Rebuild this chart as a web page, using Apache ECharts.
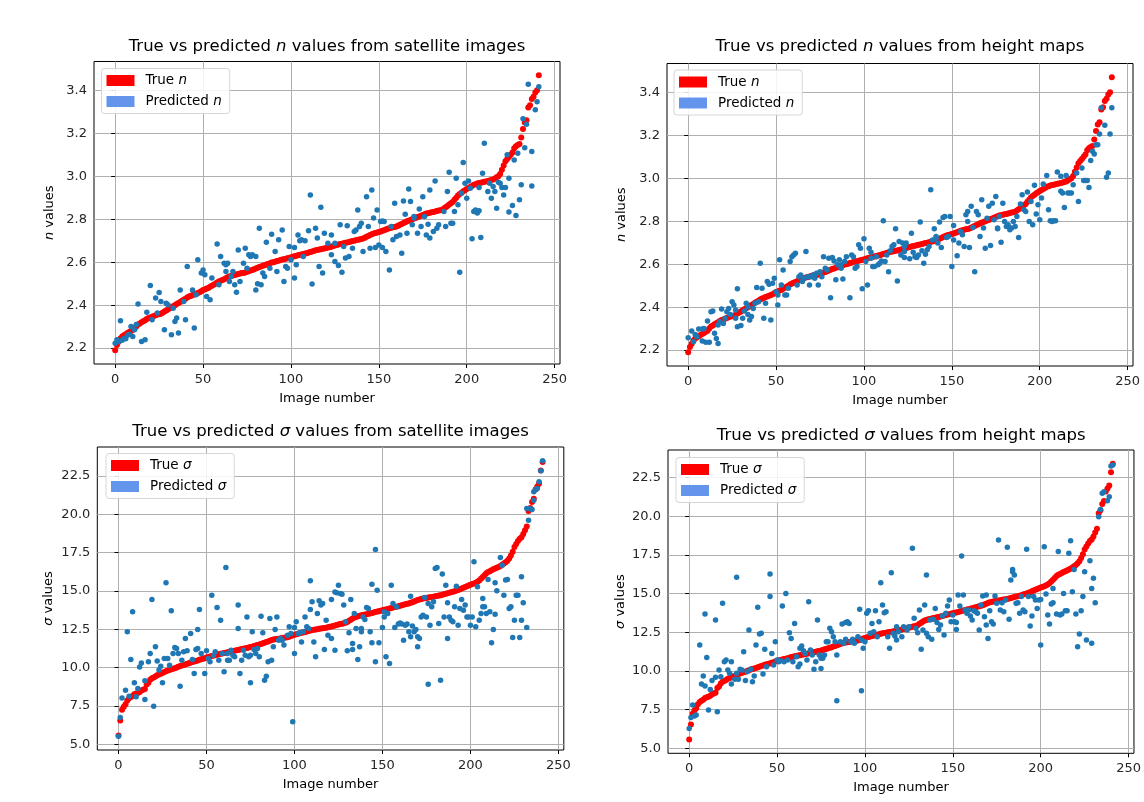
<!DOCTYPE html>
<html><head><meta charset="utf-8">
<script src="https://cdn.jsdelivr.net/npm/echarts@6/dist/echarts.min.js"></script>
<style>html,body{margin:0;padding:0;background:#fff}#c{width:1144px;height:802px}</style>
</head><body><div id="c"></div>
<script>
const xTicks = [0, 50, 100, 150, 200, 250];
const nTicks = [2.2, 2.4, 2.6, 2.8, 3.0, 3.2, 3.4];
const sigmaTicks = [5.0, 7.5, 10.0, 12.5, 15.0, 17.5, 20.0, 22.5];

const trueN = [2.19,2.215,2.23,2.245,2.254,2.26,2.265,2.27,2.275,2.28,
2.285,2.29,2.30,2.31,2.315,2.32,2.325,2.33,2.335,2.34,
2.343,2.346,2.35,2.353,2.356,2.358,2.36,2.365,2.37,2.375,
2.38,2.385,2.39,2.395,2.40,2.405,2.41,2.415,2.42,2.425,
2.43,2.435,2.44,2.443,2.447,2.45,2.453,2.456,2.46,2.465,
2.47,2.473,2.477,2.48,2.485,2.49,2.495,2.50,2.505,2.51,
2.513,2.517,2.52,2.525,2.53,2.533,2.536,2.538,2.54,2.543,
2.545,2.547,2.549,2.55,2.552,2.555,2.558,2.561,2.564,2.567,
2.57,2.574,2.577,2.58,2.583,2.586,2.589,2.592,2.595,2.598,
2.60,2.602,2.605,2.607,2.61,2.612,2.614,2.616,2.618,2.62,
2.622,2.625,2.627,2.63,2.632,2.634,2.636,2.638,2.64,2.642,
2.645,2.647,2.65,2.652,2.655,2.657,2.659,2.66,2.662,2.664,
2.666,2.668,2.67,2.672,2.675,2.678,2.68,2.682,2.684,2.686,
2.688,2.69,2.692,2.694,2.696,2.698,2.70,2.702,2.704,2.706,
2.708,2.71,2.714,2.718,2.722,2.726,2.73,2.733,2.736,2.738,
2.74,2.743,2.746,2.749,2.752,2.755,2.758,2.76,2.762,2.764,
2.766,2.77,2.774,2.778,2.782,2.786,2.79,2.793,2.796,2.80,
2.803,2.806,2.81,2.813,2.816,2.82,2.823,2.826,2.828,2.83,
2.832,2.834,2.836,2.838,2.84,2.842,2.844,2.85,2.856,2.862,
2.868,2.874,2.88,2.89,2.90,2.91,2.917,2.923,2.93,2.935,
2.94,2.945,2.95,2.955,2.96,2.963,2.966,2.968,2.97,2.972,
2.974,2.976,2.978,2.98,2.982,2.985,2.99,2.995,3.00,3.01,
3.03,3.05,3.07,3.08,3.09,3.10,3.11,3.13,3.14,3.145,
3.15,3.18,3.22,3.25,3.26,3.32,3.33,3.36,3.37,3.39,
3.40,3.47];

const trueSigma = [5.57,6.55,7.24,7.45,7.6,7.85,8.0,8.08,8.15,8.25,
8.3,8.34,8.4,8.5,8.55,8.6,8.9,9.0,9.2,9.3,
9.35,9.42,9.5,9.55,9.6,9.65,9.7,9.75,9.8,9.84,
9.88,9.92,9.96,10.0,10.05,10.1,10.13,10.16,10.2,10.24,
10.28,10.32,10.36,10.4,10.43,10.46,10.5,10.54,10.57,10.61,
10.65,10.69,10.72,10.75,10.78,10.8,10.83,10.86,10.9,10.92,
10.95,10.97,11.0,11.02,11.05,11.07,11.1,11.12,11.15,11.17,
11.2,11.22,11.25,11.28,11.3,11.33,11.36,11.4,11.43,11.47,
11.5,11.54,11.58,11.62,11.66,11.7,11.75,11.8,11.82,11.84,
11.86,11.88,11.9,11.92,11.94,11.96,11.98,12.0,12.05,12.1,
12.14,12.17,12.2,12.23,12.26,12.29,12.32,12.35,12.38,12.41,
12.44,12.46,12.48,12.5,12.52,12.54,12.56,12.58,12.6,12.62,
12.65,12.68,12.71,12.74,12.77,12.8,12.83,12.86,12.89,12.92,
12.96,13.05,13.12,13.2,13.26,13.3,13.34,13.37,13.4,13.43,
13.45,13.47,13.5,13.53,13.56,13.59,13.62,13.65,13.67,13.7,
13.73,13.76,13.79,13.82,13.85,13.88,13.91,13.94,13.97,14.0,
14.03,14.06,14.09,14.12,14.15,14.18,14.22,14.26,14.3,14.35,
14.4,14.44,14.47,14.5,14.52,14.54,14.56,14.58,14.6,14.62,
14.64,14.66,14.69,14.72,14.75,14.78,14.81,14.84,14.87,14.9,
14.94,14.98,15.02,15.06,15.1,15.15,15.2,15.25,15.3,15.35,
15.4,15.44,15.48,15.53,15.6,15.68,15.78,15.9,16.02,16.15,
16.22,16.28,16.34,16.4,16.45,16.5,16.56,16.62,16.7,16.78,
16.86,16.96,17.1,17.3,17.55,17.85,18.05,18.25,18.4,18.5,
18.7,18.95,19.2,20.2,20.4,20.8,21.0,21.6,21.8,22.0,
22.85,23.4];

const predNSat = [[0,2.223],[1,2.239],[2,2.231],[3,2.327],[4,2.237],[5,2.245],[6,2.243],[7,2.26],[8,2.265],[9,2.30],[10,2.254],[11,2.285],[12,2.31],[13,2.405],[15,2.231],[17,2.239],[18,2.367],[20,2.491],[21,2.332],[23,2.433],[24,2.363],[25,2.459],[26,2.417],[28,2.285],[29,2.409],[30,2.402],[32,2.262],[33,2.386],[34,2.324],[35,2.34],[36,2.27],[37,2.471],[39,2.417],[40,2.332],[41,2.58],[44,2.471],[45,2.293],[46,2.448],[47,2.611],[49,2.549],[50,2.564],[51,2.541],[52,2.44],[54,2.425],[55,2.526],[58,2.685],[59,2.495],[60,2.626],[62,2.595],[63,2.557],[63,2.588],[64,2.595],[65,2.51],[66,2.533],[67,2.557],[68,2.495],[69,2.46],[70,2.657],[71,2.51],[73,2.595],[74,2.665],[75,2.572],[76,2.634],[77,2.626],[78,2.634],[80,2.626],[80,2.471],[81,2.50],[82,2.758],[83,2.495],[84,2.549],[85,2.533],[86,2.693],[88,2.572],[89,2.73],[91,2.65],[92,2.557],[93,2.704],[95,2.75],[96,2.51],[97,2.58],[98,2.572],[99,2.673],[100,2.611],[102,2.526],[102,2.668],[103,2.588],[104,2.727],[105,2.70],[106,2.704],[107,2.626],[108,2.70],[110,2.746],[111,2.913],[112,2.498],[114,2.758],[115,2.712],[116,2.58],[117,2.856],[118,2.549],[119,2.735],[121,2.688],[123,2.727],[123,2.634],[125,2.603],[125,2.688],[127,2.584],[128,2.774],[129,2.553],[130,2.673],[131,2.619],[132,2.77],[133,2.626],[135,2.665],[136,2.743],[137,2.75],[138,2.843],[139,2.766],[140,2.781],[141,2.65],[143,2.905],[144,2.766],[145,2.665],[146,2.936],[147,2.805],[148,2.668],[149,2.843],[150,2.68],[151,2.789],[152,2.668],[152,2.792],[153,2.789],[154,2.65],[156,2.564],[157,2.766],[158,2.704],[159,2.874],[160,2.719],[162,2.727],[163,2.642],[164,2.885],[165,2.823],[166,2.735],[167,2.941],[168,2.882],[169,2.774],[170,2.805],[170,2.812],[172,2.735],[173,2.848],[174,2.766],[175,2.905],[176,2.812],[177,2.727],[178,2.777],[179,2.936],[179,2.712],[181,2.743],[182,2.978],[183,2.758],[184,2.774],[187,2.836],[188,2.766],[189,2.929],[190,3.019],[191,2.781],[192,2.781],[193,2.836],[194,2.991],[195,2.867],[196,2.553],[197,2.921],[198,3.064],[199,2.967],[200,2.898],[201,2.978],[202,2.944],[203,2.709],[204,2.836],[205,2.843],[206,2.829],[207,2.839],[207,2.947],[208,2.715],[209,3.014],[210,3.153],[212,2.929],[213,2.967],[214,2.898],[215,2.952],[216,2.929],[217,2.851],[218,2.972],[219,2.967],[220,2.947],[221,2.913],[222,2.947],[223,3.10],[224,2.833],[224,2.991],[226,2.864],[227,3.076],[228,2.817],[229,3.107],[230,2.89],[231,2.96],[232,3.267],[233,3.133],[234,3.242],[235,3.428],[237,3.115],[237,2.955],[239,3.309],[240,3.347],[241,3.417]];

const predNHgt = [[0,2.258],[2,2.289],[3,2.239],[4,2.273],[5,2.262],[6,2.298],[8,2.242],[8,2.298],[9,2.301],[10,2.236],[11,2.335],[12,2.236],[13,2.379],[14,2.382],[15,2.278],[16,2.254],[17,2.231],[17,2.317],[18,2.332],[19,2.391],[20,2.324],[21,2.348],[22,2.379],[23,2.394],[24,2.366],[25,2.425],[26,2.41],[27,2.348],[27,2.387],[28,2.309],[28,2.485],[30,2.314],[31,2.348],[32,2.382],[33,2.418],[34,2.366],[34,2.402],[35,2.34],[36,2.356],[37,2.394],[38,2.418],[39,2.491],[40,2.425],[41,2.604],[42,2.488],[43,2.348],[44,2.418],[45,2.519],[46,2.506],[47,2.34],[48,2.511],[49,2.534],[50,2.472],[51,2.457],[51,2.41],[52,2.62],[53,2.503],[54,2.573],[55,2.457],[56,2.457],[57,2.488],[58,2.612],[59,2.635],[60,2.643],[61,2.651],[62,2.503],[63,2.542],[64,2.55],[65,2.519],[66,2.534],[67,2.659],[68,2.542],[69,2.503],[69,2.542],[70,2.542],[71,2.55],[72,2.534],[73,2.558],[74,2.503],[75,2.565],[76,2.542],[77,2.635],[78,2.581],[79,2.573],[80,2.628],[81,2.444],[82,2.631],[83,2.615],[84,2.527],[85,2.597],[86,2.62],[87,2.581],[87,2.597],[88,2.531],[89,2.612],[90,2.635],[92,2.444],[93,2.643],[94,2.635],[95,2.581],[96,2.589],[97,2.69],[98,2.674],[99,2.485],[100,2.718],[101,2.612],[102,2.503],[103,2.674],[104,2.656],[104,2.628],[105,2.589],[106,2.589],[107,2.635],[108,2.597],[109,2.604],[110,2.615],[111,2.802],[112,2.612],[113,2.643],[114,2.565],[115,2.662],[116,2.682],[117,2.69],[118,2.765],[119,2.522],[120,2.705],[121,2.643],[122,2.698],[123,2.659],[123,2.682],[123,2.631],[124,2.698],[126,2.625],[127,2.744],[128,2.656],[129,2.635],[130,2.631],[131,2.643],[132,2.796],[133,2.662],[134,2.604],[135,2.646],[136,2.667],[137,2.682],[138,2.946],[139,2.713],[140,2.765],[141,2.729],[141,2.721],[142,2.698],[143,2.796],[144,2.677],[145,2.817],[146,2.822],[147,2.724],[148,2.729],[149,2.822],[150,2.589],[151,2.713],[151,2.78],[153,2.639],[154,2.698],[155,2.752],[156,2.737],[157,2.682],[158,2.83],[159,2.845],[159,2.799],[160,2.677],[161,2.869],[162,2.771],[163,2.565],[164,2.845],[165,2.83],[166,2.729],[167,2.90],[168,2.768],[169,2.674],[170,2.814],[171,2.869],[172,2.687],[173,2.884],[174,2.807],[175,2.915],[176,2.768],[176,2.765],[177,2.822],[178,2.702],[179,2.884],[180,2.799],[181,2.775],[182,2.783],[183,2.76],[184,2.768],[185,2.799],[186,2.775],[187,2.822],[188,2.724],[189,2.88],[190,2.923],[191,2.853],[192,2.845],[193,2.936],[194,2.799],[195,2.892],[196,2.783],[197,2.967],[198,2.833],[199,2.877],[200,2.807],[201,2.908],[202,2.973],[204,3.013],[205,2.853],[206,2.802],[207,2.799],[208,2.802],[209,2.802],[210,3.029],[212,3.009],[212,2.939],[213,2.931],[214,2.864],[215,3.013],[216,2.931],[217,2.931],[218,2.931],[219,2.97],[221,3.024],[222,2.892],[224,3.048],[225,2.989],[226,2.989],[227,2.989],[228,2.957],[229,3.082],[230,3.125],[231,3.113],[232,3.156],[233,3.156],[234,3.206],[235,3.328],[237,3.247],[238,3.004],[239,3.024],[240,3.206],[241,3.328]];

const predSigmaSat = [[0,5.52],[1,6.74],[2,8.02],[4,8.52],[5,12.33],[6,8.13],[7,10.52],[8,13.63],[9,9.0],[10,8.09],[11,8.63],[12,10.04],[13,10.30],[15,9.13],[15,7.91],[17,10.37],[18,10.91],[19,14.43],[20,7.48],[21,11.35],[22,10.43],[23,9.83],[24,10.09],[25,9.0],[26,10.59],[27,15.52],[28,10.59],[29,10.15],[30,13.70],[31,10.91],[32,11.30],[33,11.24],[34,10.91],[35,8.78],[36,10.48],[37,11.02],[38,11.89],[39,11.09],[41,12.22],[42,10.52],[43,9.61],[44,11.17],[45,11.24],[45,12.48],[46,13.78],[47,10.91],[49,9.61],[50,11.09],[51,10.59],[52,10.37],[53,14.72],[54,10.8],[55,11.02],[56,13.91],[57,10.48],[58,13.09],[59,10.91],[60,9.72],[61,16.52],[62,10.48],[62,10.91],[63,10.48],[64,11.13],[65,10.8],[66,10.70],[68,12.54],[68,14.07],[69,9.61],[70,10.48],[71,11.13],[72,10.8],[73,13.3],[74,10.7],[75,10.8],[75,9.0],[76,12.33],[77,11.17],[78,10.91],[79,11.24],[80,10.7],[81,13.35],[82,12.26],[83,9.17],[84,9.43],[85,10.37],[86,13.2],[87,10.48],[88,11.35],[89,12.48],[90,13.3],[91,11.78],[92,11.89],[93,11.78],[94,11.46],[96,12.11],[97,12.65],[98,12.22],[99,6.46],[100,10.91],[100,12.61],[101,12.98],[102,12.22],[103,12.26],[104,11.67],[105,12.33],[106,13.3],[107,12.65],[108,12.54],[109,13.78],[109,15.65],[110,14.28],[111,11.67],[112,10.7],[113,13.52],[114,14.35],[115,14.07],[116,14.17],[117,11.17],[118,13.09],[119,12.11],[121,11.89],[121,14.43],[123,14.93],[123,11.13],[124,14.87],[125,15.37],[126,14.83],[127,14.78],[128,14.07],[129,12.98],[130,11.09],[131,12.26],[132,14.43],[133,11.57],[133,11.17],[134,13.52],[135,12.54],[136,10.52],[137,11.35],[138,12.54],[138,12.33],[139,13.3],[140,13.13],[141,13.91],[142,13.85],[143,12.33],[144,11.61],[144,15.43],[146,10.37],[146,17.7],[147,15.04],[148,11.61],[150,12.61],[151,13.63],[151,13.3],[152,10.7],[153,13.52],[154,10.26],[155,15.37],[156,14.17],[157,12.61],[158,13.96],[159,12.83],[160,12.91],[161,12.83],[162,11.78],[163,12.76],[164,12.83],[165,12.33],[166,12.0],[166,14.65],[167,12.7],[168,12.33],[169,12.48],[170,12.0],[170,11.35],[171,11.89],[172,13.3],[173,13.41],[174,14.57],[175,13.3],[176,8.91],[176,14.17],[177,12.76],[178,13.96],[179,14.28],[180,16.46],[181,16.52],[182,12.87],[183,9.17],[184,16.09],[185,13.3],[186,15.37],[187,14.22],[187,11.89],[188,13.3],[189,13.09],[190,12.98],[191,13.96],[192,15.3],[193,12.76],[194,13.85],[195,14.43],[196,13.74],[197,14.07],[198,13.3],[199,13.3],[200,12.76],[201,13.3],[202,16.89],[203,12.65],[204,15.26],[205,13.09],[206,13.52],[207,14.5],[207,13.96],[208,13.96],[209,13.52],[210,15.74],[211,13.63],[212,11.61],[213,12.48],[214,13.48],[214,15.52],[215,15.0],[217,17.17],[218,16.67],[219,14.72],[220,15.7],[221,15.74],[222,13.85],[223,13.96],[224,11.96],[225,13.09],[226,14.72],[227,14.72],[228,11.96],[229,15.91],[229,13.09],[230,14.22],[232,12.61],[232,20.37],[233,19.61],[234,20.37],[235,20.3],[236,21.46],[236,20.91],[237,21.61],[238,21.67],[239,22.11],[240,22.83],[241,23.48]];

const predSigmaHgt = [[0,6.29],[1,7.0],[2,7.8],[3,7.09],[4,7.16],[6,11.68],[7,9.16],[8,9.68],[9,13.69],[9,9.03],[10,10.88],[11,7.48],[12,8.81],[13,9.38],[15,13.3],[15,9.59],[16,7.37],[17,10.06],[18,9.63],[19,14.38],[20,10.6],[21,10.71],[22,10.06],[23,9.85],[24,9.16],[24,10.6],[26,9.46],[27,9.85],[27,16.06],[28,9.46],[29,10.11],[30,10.06],[31,11.25],[32,9.38],[33,9.96],[34,12.65],[35,10.11],[36,9.31],[37,9.68],[38,11.68],[39,14.12],[40,12.39],[41,12.44],[42,9.81],[43,11.4],[44,10.28],[46,14.81],[46,16.27],[47,11.14],[48,10.39],[49,11.9],[50,10.71],[51,10.6],[52,10.67],[53,14.2],[54,10.6],[55,15.02],[56,10.71],[57,12.48],[58,12.11],[59,10.6],[60,13.08],[61,10.93],[62,10.28],[63,10.45],[63,11.47],[64,11.62],[65,11.31],[66,11.14],[67,10.71],[68,14.48],[69,11.36],[70,11.03],[71,10.11],[72,10.6],[73,13.3],[74,11.03],[75,10.82],[75,10.17],[76,10.82],[77,11.03],[78,11.9],[79,11.9],[80,12.76],[81,12.54],[82,12.22],[83,11.9],[84,8.08],[84,11.03],[86,11.9],[87,13.04],[88,11.79],[89,12.05],[89,13.13],[90,13.19],[91,13.08],[92,11.9],[93,12.05],[94,11.79],[96,12.22],[97,13.99],[98,12.0],[98,8.73],[99,11.47],[100,11.9],[101,13.73],[102,13.9],[103,12.44],[104,13.08],[105,12.54],[106,13.9],[107,12.22],[108,13.19],[109,15.71],[110,14.27],[111,13.77],[112,13.84],[113,12.22],[114,11.47],[115,16.36],[116,12.44],[117,12.26],[118,12.87],[118,12.0],[119,12.54],[121,12.22],[122,12.87],[124,12.65],[125,12.87],[127,17.93],[128,13.41],[129,12.76],[130,12.48],[131,13.94],[132,11.4],[133,12.65],[134,14.27],[135,16.21],[135,12.44],[136,12.22],[137,13.3],[138,12.05],[139,13.34],[140,14.05],[141,13.13],[142,12.69],[143,12.97],[144,13.56],[145,12.33],[146,13.73],[147,14.2],[148,14.59],[149,13.19],[150,13.62],[151,13.19],[152,13.13],[152,12.69],[153,14.91],[154,14.2],[155,17.44],[156,14.91],[157,13.94],[158,13.73],[159,13.94],[160,13.56],[161,13.3],[162,13.9],[163,13.84],[164,13.73],[165,12.65],[166,14.27],[167,14.85],[168,13.51],[169,12.97],[169,14.91],[170,12.11],[171,13.9],[172,13.19],[173,13.04],[174,14.85],[175,14.38],[176,18.47],[177,13.94],[178,14.42],[179,13.84],[180,14.59],[181,18.0],[182,13.34],[183,15.88],[184,16.57],[184,16.42],[185,16.21],[186,14.38],[187,14.42],[188,13.73],[189,14.81],[190,13.94],[191,13.84],[192,17.87],[193,14.81],[194,12.91],[195,13.56],[196,14.81],[197,14.59],[198,14.05],[199,14.59],[200,11.68],[200,14.63],[202,18.04],[203,14.98],[204,13.62],[205,13.04],[206,14.33],[207,14.42],[207,15.34],[209,13.69],[210,17.72],[211,13.62],[212,13.69],[213,15.02],[214,13.9],[215,13.9],[216,17.61],[217,18.43],[218,15.13],[219,16.57],[220,13.69],[221,11.57],[222,12.39],[223,13.9],[224,14.81],[225,16.42],[226,12.0],[228,17.13],[229,15.34],[229,11.79],[230,16.0],[231,14.42],[233,19.98],[234,20.45],[235,21.49],[236,21.59],[238,21.01],[239,21.27],[240,23.25],[241,23.32]];

const FONT = 'DejaVu Sans';
const panels = [
  {grid:{left:94, top:61.5, width:466, height:302.5}, ymin:2.126, ymax:3.534, ticks:nTicks, sym:'n', src:'satellite images',
   truth:trueN, pred:predNSat, leg:[101.5,68.5], titleY:38, yGap:38},
  {grid:{left:667, top:63.5, width:466, height:302.5}, ymin:2.126, ymax:3.534, ticks:nTicks, sym:'n', src:'height maps',
   truth:trueN, pred:predNHgt, leg:[674,70], titleY:38, yGap:39},
  {grid:{left:97.3, top:447, width:466.5, height:303}, ymin:4.622, ymax:24.378, ticks:sigmaTicks, sym:'σ', src:'satellite images',
   truth:trueSigma, pred:predSigmaSat, leg:[106,453.5], titleY:423, yGap:42},
  {grid:{left:668, top:450, width:466.5, height:303.3}, ymin:4.68, ymax:24.29, ticks:sigmaTicks, sym:'σ', src:'height maps',
   truth:trueSigma, pred:predSigmaHgt, leg:[676,457.5], titleY:427, yGap:41}
];

function rich(size) {
  return {
    r: {fontFamily: FONT, fontSize: size, color: '#000', fontWeight: 'normal'},
    i: {fontFamily: FONT, fontSize: size, color: '#000', fontStyle: 'italic', fontWeight: 'normal'}
  };
}

const option = {
  animation: false,
  backgroundColor: '#fff',
  title: panels.map(p => ({
    text: '{r|True vs predicted }{i|' + p.sym + '}{r| values from ' + p.src + '}',
    left: p.grid.left + p.grid.width / 2,
    top: p.titleY,
    textAlign: 'center',
    padding: 0,
    textStyle: {fontWeight: 'normal', fontFamily: FONT, fontSize: 16.5, rich: rich(16.5)}
  })),
  grid: panels.map(p => Object.assign({show: true, borderColor: '#000', borderWidth: 1, containLabel: false}, p.grid)),
  legend: panels.map((p, k) => ({
    orient: 'vertical',
    left: p.leg[0], top: p.leg[1],
    selectedMode: false,
    icon: 'rect', itemWidth: 28, itemHeight: 11, itemGap: 7,
    padding: [5, 8, 5, 5],
    backgroundColor: 'rgba(255,255,255,0.85)',
    borderColor: '#d6d6d6', borderWidth: 1, borderRadius: 3,
    data: [
      {name: 'true' + k, itemStyle: {color: '#ff0000'}},
      {name: 'pred' + k, itemStyle: {color: '#6495ed'}}
    ],
    formatter: name => name.indexOf('true') === 0 ? '{r|True }{i|' + p.sym + '}' : '{r|Predicted }{i|' + p.sym + '}',
    textStyle: {padding: [0, 0, 0, 6], rich: rich(13.5)}
  })),
  xAxis: panels.map((p, k) => ({
    type: 'value', gridIndex: k, min: -12.05, max: 253.05,
    axisLine: {show: false},
    axisTick: {show: true, customValues: xTicks, length: 4, lineStyle: {color: '#000'}},
    axisLabel: {customValues: xTicks, fontFamily: FONT, fontSize: 13, color: '#262626', margin: 9},
    splitLine: {show: true, lineStyle: {color: '#b0b0b0', width: 1}},
    name: 'Image number', nameLocation: 'middle', nameGap: 28,
    nameTextStyle: {fontFamily: FONT, fontSize: 13, color: '#000'}
  })),
  yAxis: panels.map((p, k) => ({
    type: 'value', gridIndex: k, min: p.ymin, max: p.ymax,
    axisLine: {show: false},
    axisTick: {show: true, customValues: p.ticks, length: 4, lineStyle: {color: '#000'}},
    axisLabel: {customValues: p.ticks, fontFamily: FONT, fontSize: 13, color: '#262626', margin: 7,
      formatter: v => Number(v).toFixed(1)},
    splitLine: {show: true, lineStyle: {color: '#b0b0b0', width: 1}},
    name: '{i|' + p.sym + '}{r| values}', nameLocation: 'middle', nameGap: p.yGap,
    nameTextStyle: {rich: rich(13)}
  })),
  series: []
};

panels.forEach((p, k) => {
  option.series.push({
    type: 'scatter', name: 'true' + k, xAxisIndex: k, yAxisIndex: k,
    data: p.truth.map((v, i) => [i, v]),
    symbolSize: 6, itemStyle: {color: '#ff0000', opacity: 1}, z: 2, silent: true
  });
  option.series.push({
    type: 'scatter', name: 'pred' + k, xAxisIndex: k, yAxisIndex: k,
    data: p.pred,
    symbolSize: 5.5, itemStyle: {color: '#1f77b4', opacity: 1}, z: 3, silent: true
  });
});

const chart = echarts.init(document.getElementById('c'), null, {renderer: 'canvas'});
chart.setOption(option);
</script>
</body></html>
